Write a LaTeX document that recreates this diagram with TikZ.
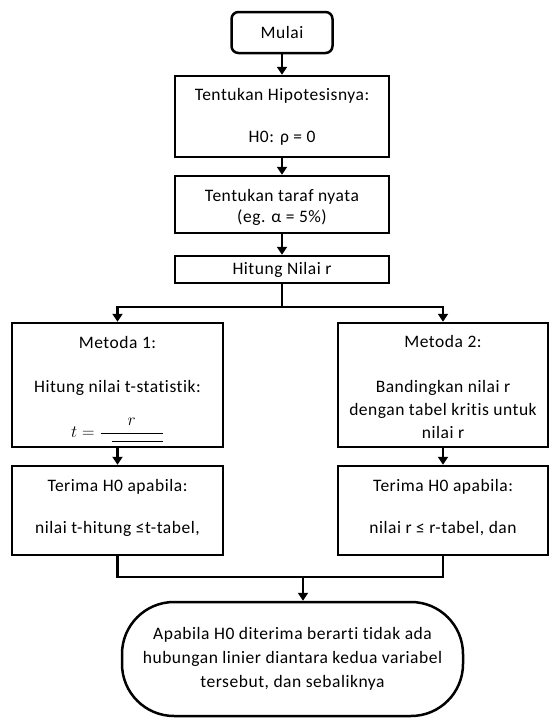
\documentclass[tikz,border=0pt]{standalone}
\usepackage{fontspec}
\setmainfont[Ligatures=NoCommon,LetterSpace=3]{Carlito}
\usetikzlibrary{arrows.meta}
\begin{document}
\begin{tikzpicture}[x=1pt,y=-1pt,
  line width=2.5pt,
  txt/.style={font=\fontsize{17.5}{23}\selectfont, text=black},
  box/.style={txt, draw, rectangle, align=center, inner sep=0pt},
  arr/.style={-{Triangle[width=10pt,length=8pt]}},
]
\useasboundingbox (0,0) rectangle (549,718);

% start
\node[box, rounded corners=7pt, minimum width=101pt, minimum height=41pt] (mulai) at (282,32.5) {Mulai};

% preparation steps
\node[box, minimum width=214pt, minimum height=81pt] (hyp) at (282,116.5)
  {Tentukan Hipotesisnya:\\[19pt]H0: ρ = 0};
\node[box, minimum width=214pt, minimum height=57pt] (taraf) at (282,204.5)
  {\rule{0pt}{18pt}Tentukan taraf nyata\\[-2pt](eg. α = 5\%)};
\node[box, minimum width=214pt, minimum height=27pt] (hitung) at (282,269.5)
  {Hitung Nilai r};

% the two methods
\node[box, minimum width=211pt, minimum height=124pt] (m1) at (117.5,385)
  {\rule{0pt}{22pt}Metoda 1:\\[21pt]Hitung nilai t-statistik:\\[22pt]%
   $t = \frac{\textstyle r\rule[-7pt]{0pt}{7pt}}{\hspace{11pt}\rule[1.5pt]{51pt}{0.9pt}}$};
\node[box, minimum width=210pt, minimum height=124pt] (m2) at (443,385)
  {\rule{0pt}{16pt}Metoda 2:\\[22pt]Bandingkan nilai r\\dengan tabel kritis untuk\\nilai r};

% acceptance rules
\node[box, minimum width=211pt, minimum height=89pt] (t1) at (117.5,510.5)
  {Terima H0 apabila:\\[19pt]nilai t-hitung ≤t-tabel,\rule[-8pt]{0pt}{8pt}};
\node[box, minimum width=210pt, minimum height=89pt] (t2) at (443,510.5)
  {Terima H0 apabila:\\[19pt]nilai r ≤ r-tabel, dan\rule[-8pt]{0pt}{8pt}};

% conclusion
\node[box, rounded corners=52pt, minimum width=341pt, minimum height=114pt] (end) at (292.5,659)
  {Apabila H0 diterima berarti tidak ada\\[1pt]hubungan linier diantara kedua variabel\\[1pt]tersebut, dan sebaliknya};

% connectors
\draw[arr] (mulai.south) -- (hyp.north);
\draw[arr] (hyp.south) -- (taraf.north);
\draw[arr] (taraf.south) -- (hitung.north);

\coordinate (split) at (282,307);
\draw[arr] (hitung.south) -- (split) -| (m1.north);
\draw[arr] (split) -| (m2.north);

\draw[arr] (m1.south) -- (t1.north);
\draw[arr] (m2.south) -- (t2.north);

\coordinate (jl) at (117.5,577);
\coordinate (jr) at (443,577);
\coordinate (join) at (303,577);
\draw (t1.south) -- (jl) -- (jr) -- (t2.south);
\draw[arr] (join) -- (join |- end.north);
\end{tikzpicture}
\end{document}
